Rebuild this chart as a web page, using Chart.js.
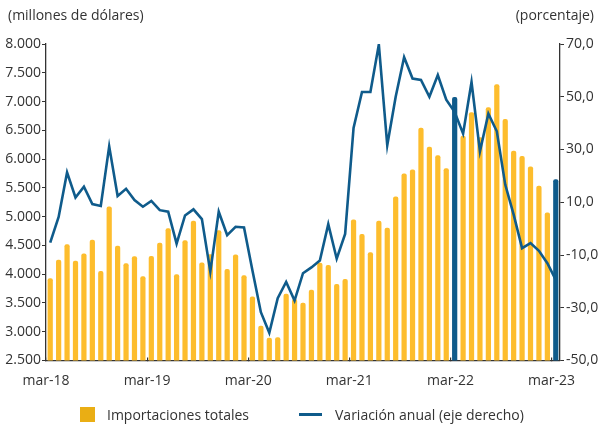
<!DOCTYPE html>
<html><head><meta charset="utf-8">
<script src="https://cdn.jsdelivr.net/npm/chart.js@4/dist/chart.umd.min.js"></script>
<style>
html,body{margin:0;padding:0;background:#fff;}
#wrap{position:relative;width:598px;height:424px;font-family:"Open Sans",sans-serif;color:#333;font-size:14px;}
#c{position:absolute;left:0;top:0;}
.ttl{position:absolute;top:5px;line-height:20px;white-space:nowrap;}
.lg{position:absolute;white-space:nowrap;line-height:20px;}
</style></head>
<body>
<div id="wrap">
<canvas id="c" width="598" height="424"></canvas>
<div class="ttl" id="tl" style="left:8px;"></div>
<div class="ttl" id="tr" style="right:4px;"></div>
<div id="legend"></div>
</div>
<script>
const months = ['mar-18','abr-18','may-18','jun-18','jul-18','ago-18','sep-18','oct-18','nov-18','dic-18','ene-19','feb-19',
'mar-19','abr-19','may-19','jun-19','jul-19','ago-19','sep-19','oct-19','nov-19','dic-19','ene-20','feb-20',
'mar-20','abr-20','may-20','jun-20','jul-20','ago-20','sep-20','oct-20','nov-20','dic-20','ene-21','feb-21',
'mar-21','abr-21','may-21','jun-21','jul-21','ago-21','sep-21','oct-21','nov-21','dic-21','ene-22','feb-22',
'mar-22','abr-22','may-22','jun-22','jul-22','ago-22','sep-22','oct-22','nov-22','dic-22','ene-23','feb-23',
'mar-23'];
const imports = [3930,4250,4520,4235,4360,4600,4055,5175,4495,4190,4310,3965,
4315,4545,4800,4000,4590,4930,4205,4345,4765,4090,4340,3980,
3610,3105,2895,2905,3660,3570,3505,3730,4200,4160,3830,3915,
4950,4700,4380,4930,4805,5350,5750,5820,6545,6215,6065,5840,
7080,6405,6815,6380,6900,7300,6695,6145,6055,5870,5535,5070,
5650];
const variation = [-5.3,4.4,21.3,11.8,15.9,9.3,8.6,31.2,12.4,15.1,10.8,8.3,
10.5,7.0,6.4,-5.7,5.0,7.3,3.6,-16.3,6.4,-2.5,0.7,0.4,
-15.9,-31.7,-39.5,-26.4,-20.2,-27.3,-16.9,-14.7,-12.1,1.7,-11.4,-2.0,
38.2,51.8,51.8,69.8,31.6,50.0,65.0,56.9,56.4,50.0,58.2,48.9,
44.2,36.0,55.6,29.3,43.6,36.9,16.7,5.3,-7.4,-5.5,-8.4,-13.1,
-19.4];
const highlighted = ['mar-22','mar-23'];
const tickLabels = ['mar-18','mar-19','mar-20','mar-21','mar-22','mar-23'];
const seriesNames = ['Importaciones totales','Variación anual (eje derecho)'];
const axisTitles = ['(millones de dólares)','(porcentaje)'];

const YELLOW = '#FDBD2D', BLUE = '#0F5B8B', TXT = '#333333', AX = '#333333';
document.getElementById('tl').textContent = axisTitles[0];
document.getElementById('tr').textContent = axisTitles[1];

Chart.defaults.font.family = "'Open Sans', sans-serif";
Chart.defaults.font.size = 14;
Chart.defaults.color = TXT;

const chart = new Chart(document.getElementById('c'), {
  type: 'bar',
  data: {
    labels: months,
    datasets: [
      { type: 'line', label: seriesNames[1], data: variation, yAxisID: 'y1',
        borderColor: BLUE, backgroundColor: BLUE, borderWidth: 2.6, pointRadius: 0,
        tension: 0, order: 0, borderJoinStyle: 'miter' },
      { type: 'bar', label: seriesNames[0], data: imports, yAxisID: 'y',
        backgroundColor: months.map(m => highlighted.includes(m) ? BLUE : YELLOW),
        barPercentage: 0.62, categoryPercentage: 1, borderRadius: 2, borderSkipped: 'bottom', order: 1 }
    ]
  },
  options: {
    responsive: false, animation: false,
    layout: { padding: { top: 44, left: 0, right: 0, bottom: 0 } },
    plugins: { legend: { display: false }, tooltip: { enabled: false } },
    scales: {
      x: {
        offset: true,
        grid: { display: true, drawOnChartArea: false, offset: true, tickLength: -3,
          color: ctx => (ctx.index % 12 === 0 && ctx.index < months.length) ? AX : 'rgba(0,0,0,0)', lineWidth: 1.2 },
        border: { display: true, color: AX, width: 1.3 },
        ticks: { autoSkip: false, maxRotation: 0, minRotation: 0, padding: 15, labelOffset: -4.2,
          callback: (v, i) => tickLabels.includes(months[i]) ? months[i] : '' },
        afterFit: s => { s.height = 63.5; }
      },
      y: {
        position: 'left', min: 2500, max: 8000,
        grid: { display: true, drawOnChartArea: false, tickLength: 4, color: AX, lineWidth: 1 },
        border: { display: true, color: AX, width: 1.3 },
        ticks: { stepSize: 500, padding: 1, callback: v => v.toLocaleString('de-DE') },
        afterFit: s => { s.width = 46; }
      },
      y1: {
        position: 'right', min: -50, max: 70,
        grid: { display: true, drawOnChartArea: false, tickLength: 4, color: AX, lineWidth: 1 },
        border: { display: true, color: AX, width: 1.3 },
        ticks: { stepSize: 20, padding: 2, callback: v => v.toFixed(1).replace('.', ',') },
        afterFit: s => { s.width = 38; }
      }
    }
  }
});

// HTML legend built from the datasets
const lg = document.getElementById('legend');
const barDs = chart.data.datasets[1], lineDs = chart.data.datasets[0];
lg.innerHTML =
  '<div class="lg" style="left:80px;top:407px;width:15px;height:15px;background:#EAAE14"></div>' +
  '<div class="lg" style="left:107px;top:405px;">' + barDs.label + '</div>' +
  '<div class="lg" style="left:299px;top:413px;width:23px;height:3px;background:' + BLUE + '"></div>' +
  '<div class="lg" style="left:335px;top:405px;">' + lineDs.label + '</div>';
</script>
</body></html>
